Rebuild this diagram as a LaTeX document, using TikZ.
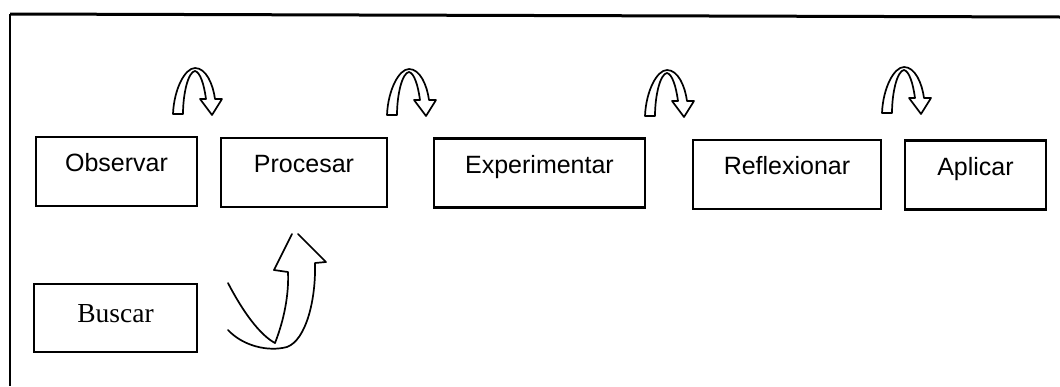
\documentclass[tikz,border=0pt]{standalone}
\usepackage{fontspec}
\setmainfont{Liberation Serif}
\newfontfamily\arialf{Liberation Sans}
\begin{document}
\begin{tikzpicture}[x=1pt,y=-1pt,
  stagebox/.style={draw=black, line width=2.8pt, minimum height=69pt, inner sep=0pt,
    font=\arialf\fontsize{25}{30}\selectfont, text height=18pt, text depth=18pt},
  searchbox/.style={draw=black, line width=2.8pt, minimum height=68pt, inner sep=0pt,
    font=\fontsize{27.5}{32}\selectfont, text height=18pt, text depth=10pt},
  sketch/.style={draw=black, line width=1.7pt, line join=round, line cap=round},
  turnarrow/.pic={
    \path[sketch, fill=white] (0,0) .. controls (1,-25) and (12,-46) .. (22,-46)
      .. controls (33,-46) and (40,-30) .. (42,-15) -- (49,-15) -- (39,1) -- (27,-15) -- (33,-15)
      .. controls (31,-30) and (27,-42) .. (22,-43)
      .. controls (15,-42) and (10,-20) .. (10,0) -- cycle;
  }
]
\useasboundingbox (0,0) rectangle (1060,386);
% frame
\coordinate (ftl) at (10,14);
\coordinate (ftr) at (1060,17);
\coordinate (fbl) at (10,386);
\draw[line width=3pt] (ftr) -- (ftl);
\draw[line width=2pt] (ftl) -- (fbl);

% boxes
\node[stagebox, minimum width=161pt] (obs) at (116.5,171.5) {Observar};
\node[stagebox, minimum width=166pt] (pro) at (304,172.5) {Procesar};
\node[stagebox, minimum width=211pt] (exp) at (539.5,173) {Experimentar};
\node[stagebox, minimum width=188pt] (ref) at (787,174.5) {Reflexionar};
\node[stagebox, minimum width=141pt] (apl) at (975.5,175) {Aplicar};
\node[searchbox, minimum width=163pt] (bus) at (115.5,318) {Buscar};

% small turn arrows
\pic at (173,114) {turnarrow};
\pic at (387,115) {turnarrow};
\pic at (645,116) {turnarrow};
\pic at (882,113) {turnarrow};

% big hand-drawn arrow
\coordinate (a0) at (228,283);
\coordinate (a1) at (275,343);
\coordinate (a2) at (288,272);
\coordinate (a3) at (274,270);
\coordinate (a4) at (292,234);
\coordinate (a5) at (298,234);
\coordinate (a6) at (326,262);
\coordinate (a7) at (315,263);
\coordinate (a8) at (287,347);
\coordinate (a9) at (228,330);
\draw[sketch] (a0) .. controls (243,312) and (260,335) .. (a1)
  .. controls (284,320) and (289,295) .. (a2) -- (a3) -- (a4);
\draw[sketch] (a5) -- (a6) -- (a7)
  .. controls (316,300) and (306,340) .. (a8)
  .. controls (268,352) and (243,346) .. (a9);
\end{tikzpicture}
\end{document}
